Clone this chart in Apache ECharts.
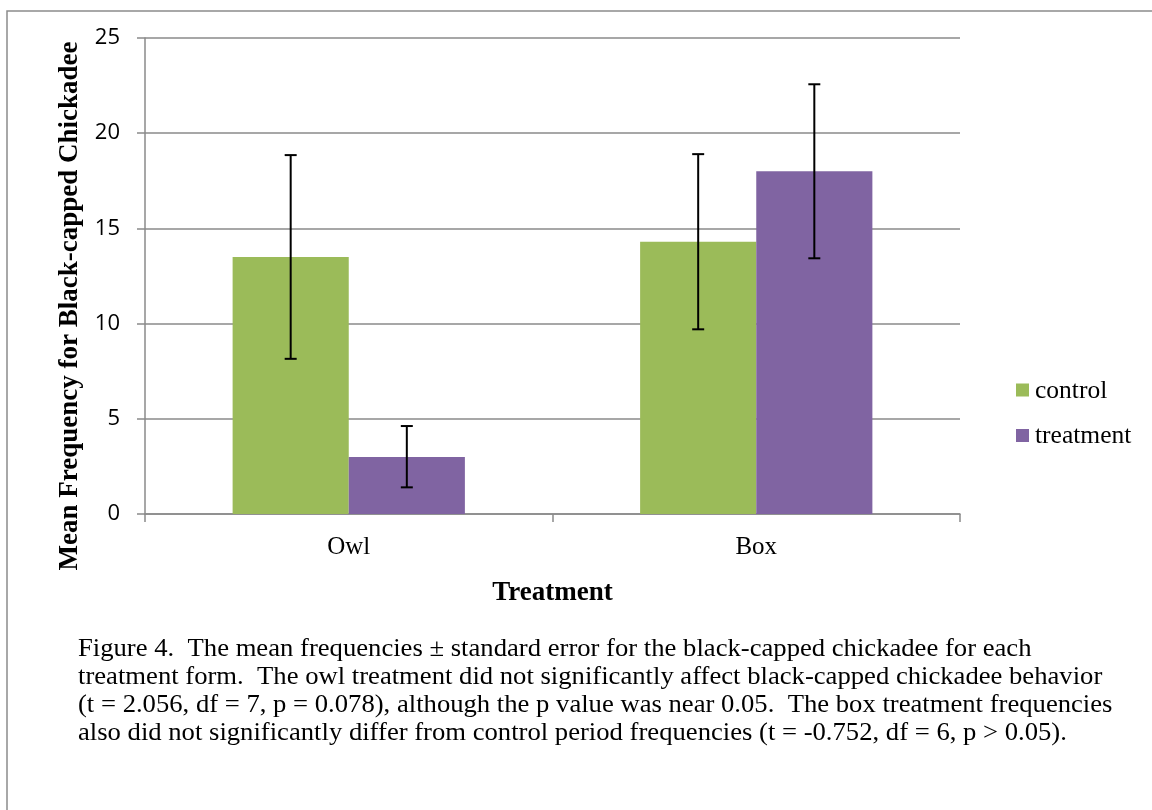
<!DOCTYPE html>
<html>
<head>
<meta charset="utf-8">
<script src="https://cdn.jsdelivr.net/npm/echarts@6/dist/echarts.min.js"></script>
<style>html,body{margin:0;padding:0;background:#fff;}#c{width:1152px;height:810px;}</style>
</head>
<body>
<div id="c"></div>
<script>
const categories = ['Owl', 'Box'];
const seriesNames = ['control', 'treatment'];
const controlMean = [13.5, 14.3];
const treatmentMean = [3.0, 18.0];
const controlLow = [8.15, 9.7];
const controlHigh = [18.85, 18.9];
const treatmentLow = [1.4, 13.43];
const treatmentHigh = [4.62, 22.57];
const yTicks = [0, 5, 10, 15, 20, 25];
const xTitle = 'Treatment';
const yTitle = 'Mean Frequency for Black-capped Chickadee';
const captionLines = [
  'Figure 4.  The mean frequencies \u00b1 standard error for the black-capped chickadee for each',
  'treatment form.  The owl treatment did not significantly affect black-capped chickadee behavior',
  '(t = 2.056, df = 7, p = 0.078), although the p value was near 0.05.  The box treatment frequencies',
  'also did not significantly differ from control period frequencies (t = -0.752, df = 6, p > 0.05).'
];

const SERIF = '"Liberation Serif", "Times New Roman", serif';
const SANS = '"Open Sans", "Liberation Sans", sans-serif';
const COLORS = ['#9BBB59', '#8064A2'];
const AXIS = '#8a8a8a';
const GAP = 0.43;

function errRender(side) {
  return function (params, api) {
    const idx = api.value(0);
    const band = api.size([1, 0])[0];
    const bw = band * (1 - GAP) / 2;
    const c = api.coord([idx, 0]);
    const x = c[0] + side * bw / 2;
    const yl = api.coord([idx, api.value(1)])[1];
    const yh = api.coord([idx, api.value(2)])[1];
    const cap = 6;
    const st = { stroke: '#000', lineWidth: 2 };
    return {
      type: 'group',
      children: [
        { type: 'line', shape: { x1: x, y1: yl, x2: x, y2: yh }, style: st },
        { type: 'line', shape: { x1: x - cap, y1: yl, x2: x + cap, y2: yl }, style: st },
        { type: 'line', shape: { x1: x - cap, y1: yh, x2: x + cap, y2: yh }, style: st }
      ]
    };
  };
}

const chart = echarts.init(document.getElementById('c'));

const captionGraphics = captionLines.map((t, i) => ({
  type: 'text', x: 78, y: 649.5 + i * 28, scaleX: 1.045, silent: true,
  style: { text: t, font: '25.5px ' + SERIF, fill: '#000', align: 'left', verticalAlign: 'middle' }
}));

const legendGraphics = [];
seriesNames.forEach((n, i) => {
  const cy = 390 + i * 45.5;
  legendGraphics.push({ type: 'rect', shape: { x: 1016, y: cy - 6.5, width: 13, height: 13 },
    style: { fill: COLORS[i] }, silent: true });
  legendGraphics.push({ type: 'text', x: 1035, y: cy + 1, silent: true,
    style: { text: n, font: '25.5px ' + SERIF, fill: '#000', align: 'left', verticalAlign: 'middle' } });
});

chart.setOption({
  animation: false,
  grid: { left: 145, right: 192, top: 38, bottom: 296 },
  xAxis: {
    type: 'category', data: categories,
    axisLine: { lineStyle: { color: AXIS, width: 1.5 } },
    axisTick: { show: true, length: 8, lineStyle: { color: AXIS, width: 1.5 } },
    axisLabel: { fontFamily: SERIF, fontSize: 25, color: '#000', margin: 33, verticalAlign: 'middle' }
  },
  yAxis: {
    type: 'value', min: yTicks[0], max: yTicks[yTicks.length - 1], interval: 5,
    axisLine: { show: true, lineStyle: { color: AXIS, width: 1.5 } },
    axisTick: { show: true, length: 8, lineStyle: { color: AXIS, width: 1.5 } },
    splitLine: { lineStyle: { color: AXIS, width: 1.5 } },
    axisLabel: { fontFamily: SANS, fontSize: 22, color: '#000', margin: 25 }
  },
  graphic: [
    { type: 'rect', shape: { x: 7, y: 11, width: 1300, height: 1000 },
      style: { fill: 'none', stroke: '#8c8c8c', lineWidth: 1.5 }, silent: true },
    { type: 'text', x: 70, y: 306, rotation: Math.PI / 2, silent: true,
      style: { text: yTitle, font: 'bold 27px ' + SERIF,
        fill: '#000', align: 'center', verticalAlign: 'middle' } },
    { type: 'text', x: 552.5, y: 593.5, silent: true,
      style: { text: xTitle, font: 'bold 27px ' + SERIF,
        fill: '#000', align: 'center', verticalAlign: 'middle' } }
  ].concat(legendGraphics, captionGraphics),
  series: [
    { name: seriesNames[0], type: 'bar', data: controlMean, barGap: '0%', barCategoryGap: '43%',
      itemStyle: { color: COLORS[0] } },
    { name: seriesNames[1], type: 'bar', data: treatmentMean, barGap: '0%', barCategoryGap: '43%',
      itemStyle: { color: COLORS[1] } },
    { type: 'custom', z: 10, renderItem: errRender(-1),
      data: categories.map((c, i) => [i, controlLow[i], controlHigh[i]]) },
    { type: 'custom', z: 10, renderItem: errRender(1),
      data: categories.map((c, i) => [i, treatmentLow[i], treatmentHigh[i]]) }
  ]
});
</script>
</body>
</html>
